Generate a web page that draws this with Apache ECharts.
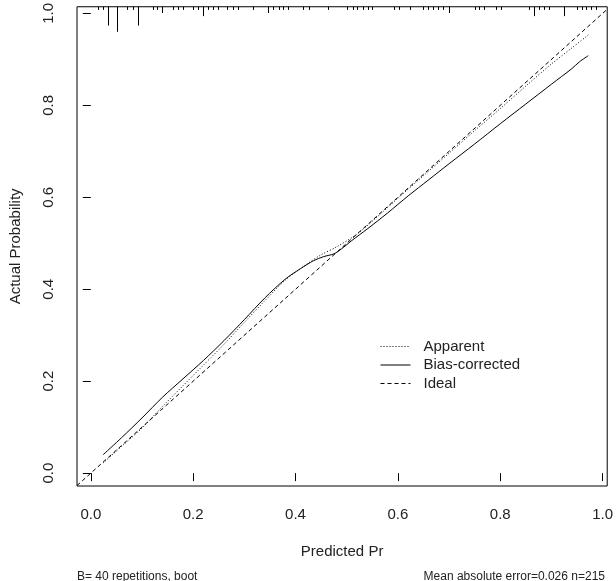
<!DOCTYPE html>
<html>
<head>
<meta charset="utf-8">
<script src="https://cdn.jsdelivr.net/npm/echarts@6/dist/echarts.min.js"></script>
<style>
  html, body { margin: 0; padding: 0; background: #fff; }
  #chart { width: 616px; height: 581px; }
</style>
</head>
<body>
<div id="chart"></div>
<script>
// Calibration plot (rms-style): apparent vs bias-corrected vs ideal, rug of predictions on top.
const X_MIN = -0.027, X_MAX = 1.009;
const Y_MIN = -0.028, Y_MAX = 1.0145;
const TICKS = [0, 0.2, 0.4, 0.6, 0.8, 1.0];

const apparentX = [0.024, 0.06, 0.10, 0.14, 0.18, 0.22, 0.26, 0.30, 0.34, 0.38, 0.42, 0.45, 0.48, 0.52, 0.56, 0.60, 0.65, 0.70, 0.75, 0.80, 0.85, 0.90, 0.94, 0.972];
const apparentY = [0.022, 0.058, 0.098, 0.145, 0.19, 0.235, 0.28, 0.328, 0.375, 0.42, 0.453, 0.475, 0.492, 0.52, 0.558, 0.598, 0.647, 0.696, 0.745, 0.793, 0.842, 0.89, 0.925, 0.953];

const biasX = [0.024, 0.06, 0.10, 0.14, 0.18, 0.22, 0.26, 0.30, 0.34, 0.38, 0.41, 0.435, 0.455, 0.475, 0.49, 0.51, 0.54, 0.58, 0.62, 0.66, 0.70, 0.75, 0.80, 0.85, 0.90, 0.94, 0.955, 0.972];
const biasY = [0.040, 0.077, 0.12, 0.165, 0.205, 0.245, 0.288, 0.334, 0.381, 0.422, 0.445, 0.462, 0.471, 0.477, 0.488, 0.506, 0.531, 0.566, 0.603, 0.638, 0.673, 0.716, 0.76, 0.803, 0.846, 0.88, 0.895, 0.908];

const idealX = [X_MIN, X_MAX];
const idealY = [X_MIN, X_MAX];

// predicted values (rug) and their spike heights
const rugX = [0.014, 0.024, 0.033, 0.052, 0.070, 0.082, 0.092, 0.122, 0.130, 0.139, 0.160, 0.170, 0.180, 0.199, 0.209, 0.219, 0.228, 0.238, 0.249, 0.267, 0.277, 0.287, 0.316, 0.346, 0.356, 0.367, 0.376, 0.386, 0.415, 0.426, 0.463, 0.501, 0.512, 0.521, 0.531, 0.541, 0.550, 0.592, 0.602, 0.624, 0.649, 0.659, 0.669, 0.678, 0.688, 0.699, 0.750, 0.759, 0.769, 0.792, 0.802, 0.856, 0.866, 0.875, 0.885, 0.895, 0.924, 0.949, 0.959, 0.968, 0.978, 0.987];
const rugN = [1, 1, 6, 8, 1, 1, 6, 1, 1, 2, 1, 1, 1, 1, 1, 3, 1, 1, 1, 1, 1, 1, 1, 2, 1, 1, 1, 1, 1, 1, 1, 1, 1, 1, 1, 1, 1, 1, 1, 1, 1, 1, 1, 1, 1, 2, 1, 1, 1, 1, 1, 1, 3, 1, 1, 1, 3, 1, 1, 1, 1, 1];
const RUG_UNIT = 0.0068;

const FONT = "'Liberation Sans', Arial, sans-serif";
const INK = "#000";
const TEXT = "#222";

const zip = (xs, ys) => xs.map((x, i) => [x, ys[i]]);

const chart = echarts.init(document.getElementById("chart"), null, { renderer: "canvas" });

const axisCommon = {
  type: "value",
  axisLine: { show: false },
  splitLine: { show: false },
  axisTick: { show: true, inside: false, length: 8, lineStyle: { color: INK, width: 1 }, customValues: TICKS },
  nameLocation: "middle",
  nameTextStyle: { color: TEXT, fontSize: 15, fontFamily: FONT },
};

chart.setOption({
  animation: false,
  backgroundColor: "#fff",
  textStyle: { fontFamily: FONT },
  title: [
    { text: "B= 40 repetitions, boot", left: 72, top: 566,
      textStyle: { fontSize: 12, fontWeight: "normal", color: TEXT, fontFamily: FONT } },
    { text: "Mean absolute error=0.026 n=215", right: 6, top: 566,
      textStyle: { fontSize: 12, fontWeight: "normal", color: TEXT, fontFamily: FONT } },
  ],
  legend: {
    data: ["Apparent", "Bias-corrected", "Ideal"],
    orient: "vertical",
    left: 380,
    top: 339,
    padding: 0,
    itemWidth: 30,
    itemHeight: 14,
    itemGap: 3.5,
    selectedMode: false,
    itemStyle: { opacity: 0 },
    lineStyle: { width: 1 },
    textStyle: { color: TEXT, fontSize: 15, fontFamily: FONT, padding: [0, 0, 0, 8] },
  },
  grid: {
    left: 73, right: 7, top: 5, bottom: 95,
    show: true, borderColor: INK, borderWidth: 1, backgroundColor: "transparent",
  },
  xAxis: {
    ...axisCommon,
    min: X_MIN, max: X_MAX,
    name: "Predicted Pr",
    nameGap: 58,
    axisLabel: {
      customValues: TICKS, margin: 21, color: TEXT, fontSize: 15, fontFamily: FONT,
      formatter: (v) => v.toFixed(1),
    },
  },
  yAxis: {
    ...axisCommon,
    min: Y_MIN, max: Y_MAX,
    name: "Actual Probability",
    nameRotate: 90,
    nameGap: 54,
    axisLabel: {
      customValues: TICKS, margin: 21, rotate: 90, color: TEXT, fontSize: 15, fontFamily: FONT,
      formatter: (v) => v.toFixed(1),
    },
  },
  series: [
    {
      name: "Apparent",
      type: "line",
      showSymbol: false,
      symbol: "none",
      smooth: 0.3,
      lineStyle: { color: INK, width: 1, type: [1, 2] },
      itemStyle: { color: INK },
      data: zip(apparentX, apparentY),
    },
    {
      name: "Bias-corrected",
      type: "line",
      showSymbol: false,
      symbol: "none",
      smooth: 0.3,
      lineStyle: { color: INK, width: 1, type: "solid" },
      itemStyle: { color: INK },
      data: zip(biasX, biasY),
    },
    {
      name: "Ideal",
      type: "line",
      showSymbol: false,
      symbol: "none",
      lineStyle: { color: INK, width: 1, type: [4, 3] },
      itemStyle: { color: INK },
      data: zip(idealX, idealY),
    },
    {
      name: "rug",
      type: "custom",
      silent: true,
      renderItem: (params, api) => {
        const x = api.value(0);
        const n = api.value(1);
        const p1 = api.coord([x, Y_MAX]);
        const p2 = api.coord([x, Y_MAX - n * RUG_UNIT]);
        const px = Math.round(p1[0]) + 0.5;
        return {
          type: "line",
          shape: { x1: px, y1: p1[1], x2: px, y2: p2[1] },
          style: { stroke: INK, lineWidth: 1 },
        };
      },
      data: zip(rugX, rugN),
    },
  ],
});
</script>
</body>
</html>
